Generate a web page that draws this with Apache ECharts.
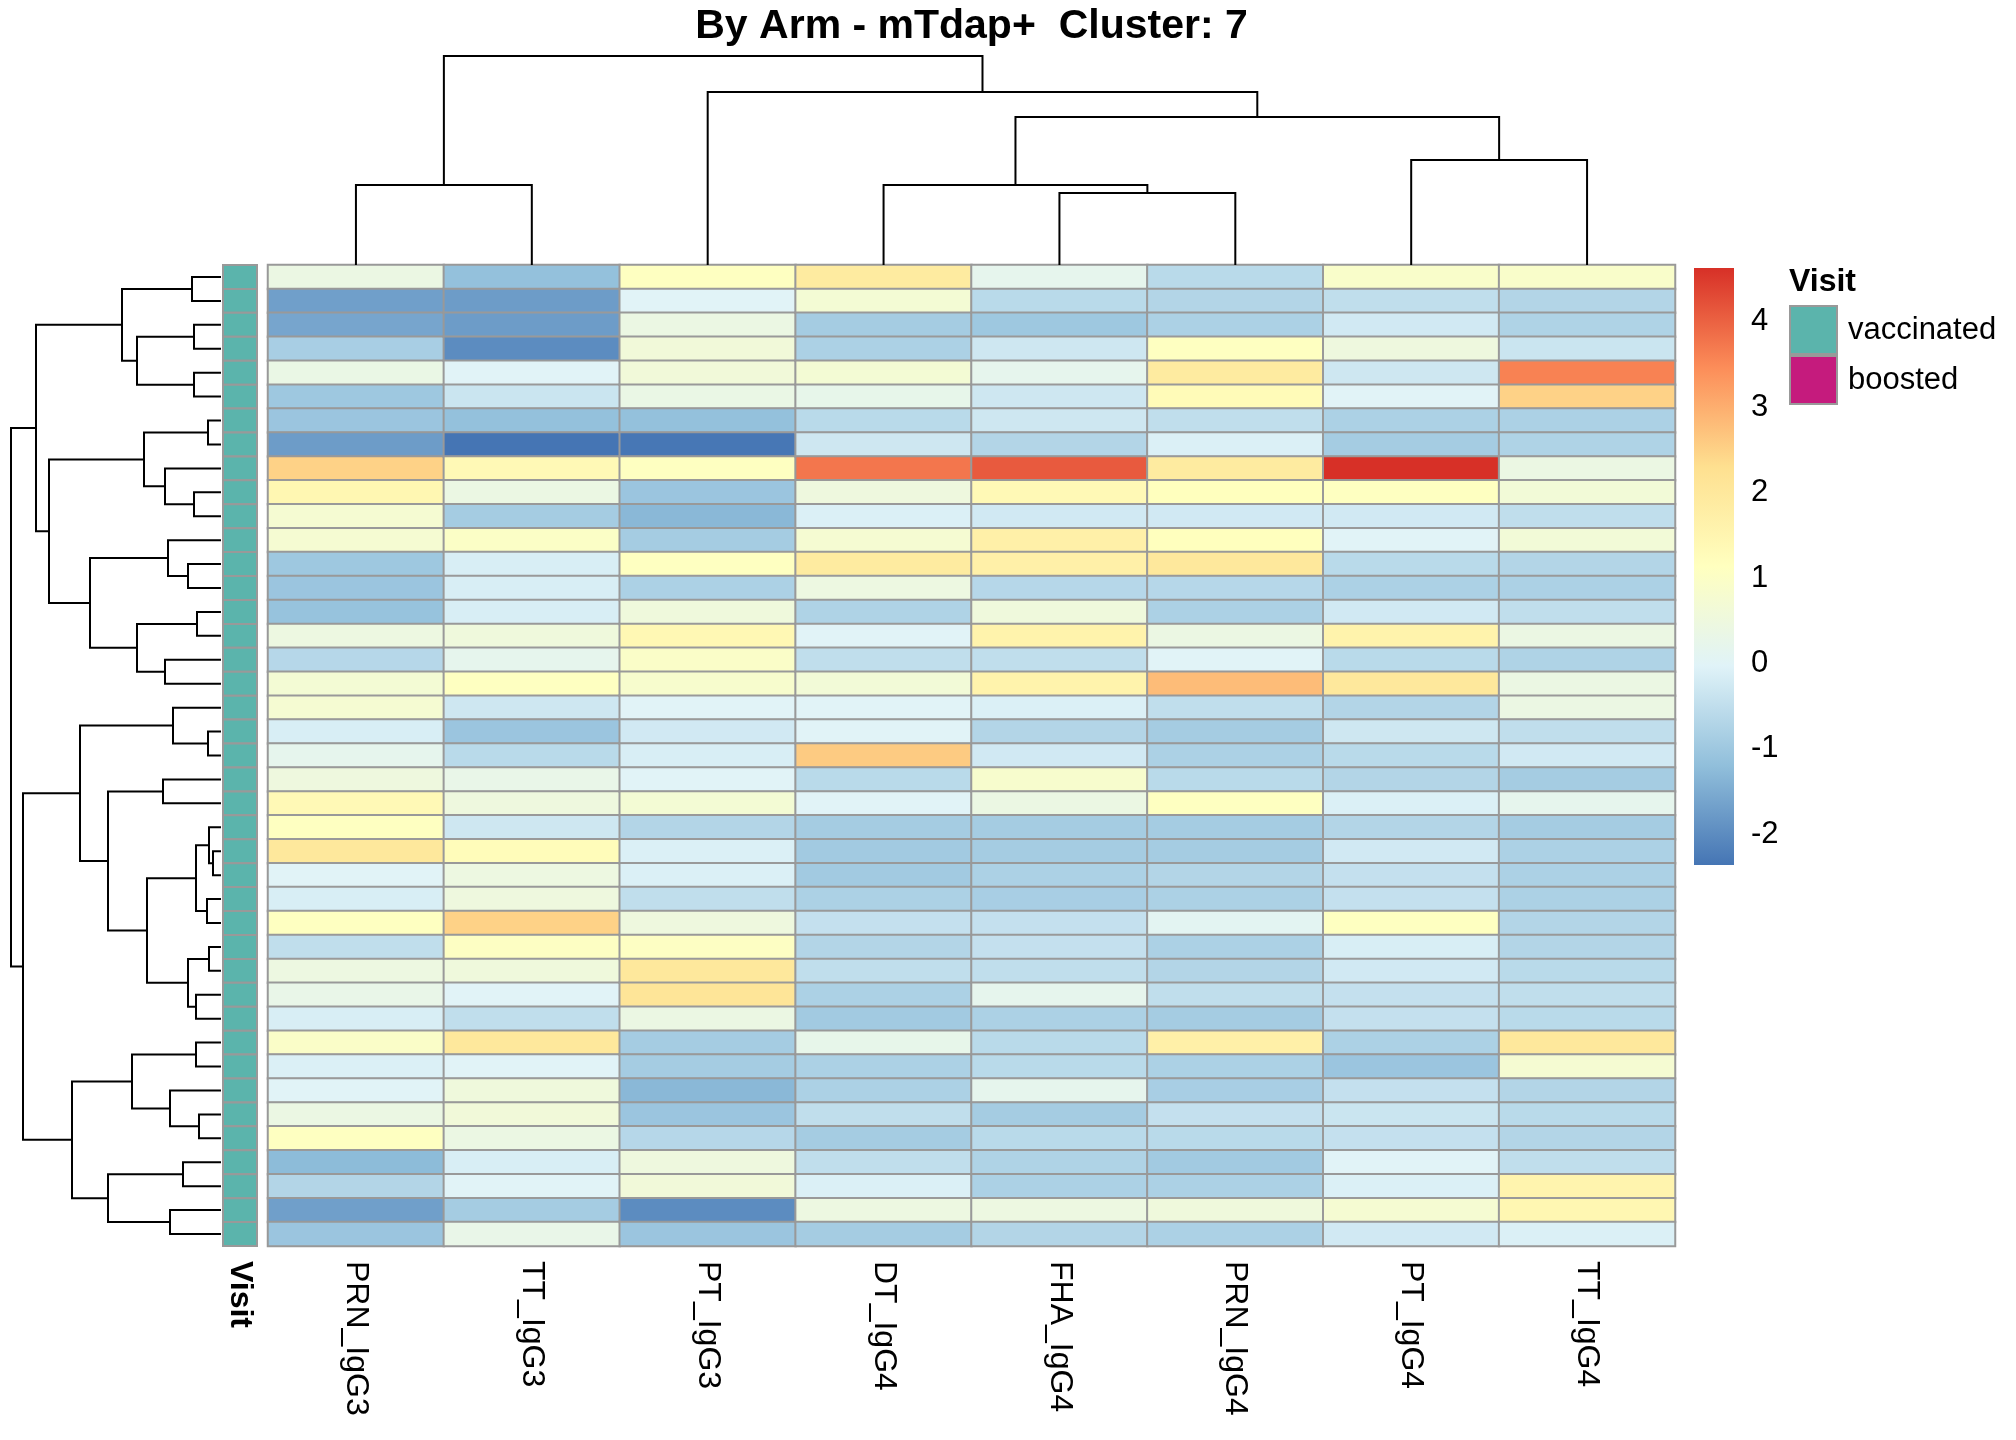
<!DOCTYPE html>
<html><head><meta charset="utf-8">
<script src="https://cdn.jsdelivr.net/npm/echarts@6.0.0/dist/echarts.min.js"></script>
<style>html,body{margin:0;padding:0;background:#fff}#c{width:2016px;height:1440px}</style>
</head><body><div id="c"></div>
<script>
const FONT = '"Liberation Sans", Arial, Helvetica, sans-serif';

// ---- data ----
const columns = ['PRN_IgG3','TT_IgG3','PT_IgG3','DT_IgG4','FHA_IgG4','PRN_IgG4','PT_IgG4','TT_IgG4'];
const PRN_IgG3 = [0.4,-1.7,-1.6,-0.85,0.35,-1.0,-1.05,-1.75,2.5,1.45,0.75,0.75,-1.0,-1.05,-1.1,0.45,-0.65,0.7,0.75,-0.15,0.2,0.5,1.35,1.1,2.0,0.0,-0.15,1.1,-0.5,0.45,0.3,-0.15,0.95,-0.1,0.0,0.4,1.1,-1.25,-0.7,-1.7,-1.05];
const TT_IgG3  = [-1.15,-1.75,-1.75,-2.0,0.0,-0.35,-1.15,-2.36,1.35,0.4,-0.9,1.0,-0.15,-0.15,-0.15,0.55,0.2,1.1,-0.3,-1.05,-0.6,0.3,0.5,-0.3,1.25,0.45,0.5,2.5,1.05,0.55,0.0,-0.5,2.0,0.0,0.55,0.6,0.4,-0.15,0.0,-0.9,0.3];
const PT_IgG3  = [1.1,0.0,0.4,0.6,0.6,0.35,-1.15,-2.33,1.1,-1.05,-1.3,-0.9,1.1,-0.8,0.55,1.4,0.95,0.85,0.0,-0.25,-0.15,0.0,0.7,-0.7,-0.1,-0.1,-0.5,0.5,1.05,2.0,2.1,0.4,-0.9,-0.9,-1.3,-1.05,-0.65,0.5,0.6,-2.0,-1.05];
const DT_IgG4  = [1.9,0.7,-0.9,-0.8,0.7,0.25,-0.6,-0.3,3.75,0.5,-0.1,0.75,1.9,0.45,-0.75,0.0,-0.5,0.65,0.0,0.0,2.6,-0.6,0.0,-0.9,-0.95,-0.95,-0.8,-0.45,-0.7,-0.5,-0.8,-0.95,0.25,-0.8,-0.8,-0.5,-0.9,-0.5,-0.1,0.45,-0.9];
const FHA_IgG4 = [0.2,-0.6,-1.0,-0.3,0.2,-0.3,-0.3,-0.7,4.1,1.35,-0.25,1.7,1.7,-0.65,0.55,1.6,-0.5,1.6,-0.1,-0.7,-0.25,0.85,0.4,-0.9,-0.9,-0.8,-0.85,-0.45,-0.45,-0.5,0.2,-0.8,-0.6,-0.6,0.2,-0.9,-0.6,-0.75,-0.8,0.45,-0.7];
const PRN_IgG4 = [-0.6,-0.7,-0.8,1.1,1.9,1.3,-0.5,-0.1,1.9,1.15,-0.25,1.15,2.0,-0.65,-0.8,0.4,0.0,2.8,-0.5,-0.9,-0.8,-0.6,1.1,-0.9,-0.9,-0.7,-0.8,0.1,-0.8,-0.7,-0.5,-0.9,1.7,-0.8,-0.85,-0.45,-0.6,-0.95,-0.8,0.55,-0.8];
const PT_IgG4  = [0.9,-0.5,-0.25,0.5,-0.3,0.0,-0.8,-0.9,4.63,1.1,-0.25,0.0,-0.6,-0.8,-0.25,1.6,-0.6,2.0,-0.7,-0.3,-0.6,-0.7,-0.1,-0.7,-0.25,-0.45,-0.45,1.1,-0.15,-0.25,-0.45,-0.45,-0.8,-1.05,-0.45,-0.35,-0.45,0.0,-0.1,0.75,-0.25];
const TT_IgG4  = [0.9,-0.7,-0.75,-0.35,3.6,2.5,-0.8,-0.75,0.4,0.65,-0.5,0.65,-0.7,-0.8,-0.5,0.4,-0.75,0.4,0.4,-0.5,-0.25,-0.9,0.2,-0.9,-0.8,-0.8,-0.8,-0.7,-0.7,-0.6,-0.5,-0.6,2.0,0.75,-0.7,-0.6,-0.7,-0.5,1.55,1.45,-0.1];
const columnValues = [PRN_IgG3, TT_IgG3, PT_IgG3, DT_IgG4, FHA_IgG4, PRN_IgG4, PT_IgG4, TT_IgG4];

const visit = Array.from({length: 41}, () => 'vaccinated');
const visitLevels = ['vaccinated', 'boosted'];
const visitColors = ['#5BB4AC', '#C51B7D'];

// hclust-style merges: [left, right, height]; negative = leaf (1-based), positive = earlier merge (1-based)
const rowMerges = [
  [-1,-2,29],[-3,-4,27],[-5,-6,27],[2,3,84],[1,4,99],
  [-7,-8,13],[-10,-11,27],[-9,7,56],[6,8,77],
  [-13,-14,33],[-12,10,53],[-15,-16,24],[-17,-18,56],[12,13,84],[11,14,131],
  [9,15,172],[5,16,185],
  [-20,-21,13],[-19,18,48],[-22,-23,58],[-25,-26,8],[-24,21,12],[-27,-28,14],[22,23,25],
  [-29,-30,12],[-31,-32,25],[25,26,33],[24,27,74],[20,28,113],[19,29,141],
  [-33,-34,25],[-36,-37,22],[-35,32,51],[31,33,89],[-38,-39,38],[-40,-41,51],[35,36,113],[34,37,149],
  [30,38,198],[17,39,210]
];
const colMerges = [
  [-5,-6,72],[-1,-2,80],[-4,1,80],[-7,-8,105],[3,4,148],[-3,5,173],[2,6,209]
];

const colorTicks = [-2,-1,0,1,2,3,4];
const palette = ['#4575B4','#91BFDB','#E0F3F8','#FFFFBF','#FEE090','#FC8D59','#D73027'];
const scaleMin = -2.36, scaleMax = 4.63;

// ---- derived ----
const nRows = visit.length;
const rowNames = Array.from({length: nRows}, (_, i) => String(i));
const heatData = [];
columnValues.forEach((arr, j) => arr.forEach((v, i) => heatData.push([j, i, v])));

function dendro(merges) {
  const pos = [], hgt = [], lines = [];
  merges.forEach(([a, b, h], k) => {
    const pa = a < 0 ? -a - 1 : pos[a - 1], ha = a < 0 ? 0 : hgt[a - 1];
    const pb = b < 0 ? -b - 1 : pos[b - 1], hb = b < 0 ? 0 : hgt[b - 1];
    lines.push([[pa, ha], [pa, h], [pb, h], [pb, hb]]);
    pos[k] = (pa + pb) / 2; hgt[k] = h;
  });
  return lines;
}
const rowLines = dendro(rowMerges).map(l => ({coords: l.map(([p, h]) => [h, p])}));
const colLines = dendro(colMerges).map(l => ({coords: l}));

function annoSeries(level, color) {
  return {
    type: 'custom', name: level, xAxisIndex: 1, yAxisIndex: 1,
    itemStyle: {color: color},
    data: visit.map((v, i) => v === level ? [0, i] : null).filter(d => d),
    renderItem: (params, api) => {
      const c = api.coord([api.value(0), api.value(1)]);
      const s = api.size([1, 1]);
      return {type: 'rect', shape: {x: c[0] - s[0] / 2, y: c[1] - s[1] / 2, width: s[0], height: s[1]},
        style: {fill: color, stroke: '#999999', lineWidth: 2}};
    }
  };
}

const HM_LEFT = 268, HM_WIDTH = 1407;
const hidden = {show: false};
const option = {
  animation: false,
  backgroundColor: '#ffffff',
  textStyle: {fontFamily: FONT},
  title: [
    {text: 'By Arm - mTdap+  Cluster: 7', left: HM_LEFT + HM_WIDTH / 2, top: 6, textAlign: 'center', padding: 0,
     textStyle: {fontSize: 41, fontWeight: 'bold', color: '#000', fontFamily: FONT}},
    {text: 'Visit', left: 1789, top: 266, padding: 0,
     textStyle: {fontSize: 32, fontWeight: 'bold', color: '#000', fontFamily: FONT}}
  ],
  legend: {
    data: visitLevels, orient: 'vertical', left: 1789, top: 305, padding: 0,
    itemWidth: 47, itemHeight: 48, itemGap: 0, icon: 'rect', selectedMode: false,
    itemStyle: {borderColor: '#999999', borderWidth: 2},
    textStyle: {fontSize: 31, color: '#000', fontFamily: FONT, padding: [0, 0, 0, 6]}
  },
  grid: [
    {left: HM_LEFT, top: 265, width: HM_WIDTH, height: 981},
    {left: 223, top: 265, width: 34, height: 981},
    {left: 0, top: 265, width: 221, height: 981},
    {left: HM_LEFT, top: 45, width: HM_WIDTH, height: 220},
    {left: 1694, top: 268, width: 40, height: 597}
  ],
  xAxis: [
    {type: 'category', gridIndex: 0, data: columns, position: 'bottom',
     axisLine: hidden, axisTick: hidden, splitLine: hidden,
     axisLabel: {rotate: -90, margin: 15, fontSize: 32, color: '#000', fontFamily: FONT, interval: 0}},
    {type: 'category', gridIndex: 1, data: ['Visit'], position: 'bottom',
     axisLine: hidden, axisTick: hidden, splitLine: hidden,
     axisLabel: {rotate: -90, margin: 15, fontSize: 32, fontWeight: 'bold', color: '#000', fontFamily: FONT}},
    {type: 'value', gridIndex: 2, min: 0, max: 221, inverse: true, show: false},
    {type: 'value', gridIndex: 3, min: -0.5, max: 7.5, show: false},
    {type: 'value', gridIndex: 4, min: 0, max: 1, show: false}
  ],
  yAxis: [
    {type: 'category', gridIndex: 0, data: rowNames, inverse: true, show: false},
    {type: 'category', gridIndex: 1, data: rowNames, inverse: true, show: false},
    {type: 'value', gridIndex: 2, min: -0.5, max: nRows - 0.5, inverse: true, show: false},
    {type: 'value', gridIndex: 3, min: 0, max: 220, show: false},
    {type: 'value', gridIndex: 4, min: scaleMin, max: scaleMax, position: 'right',
     axisLine: hidden, splitLine: hidden,
     axisTick: {show: false, customValues: colorTicks},
     axisLabel: {customValues: colorTicks, margin: 17, fontSize: 31, color: '#000', fontFamily: FONT}}
  ],
  visualMap: {
    type: 'continuous', show: false, seriesIndex: 0, dimension: 2,
    min: scaleMin, max: scaleMax, inRange: {color: palette}
  },
  series: [
    {type: 'heatmap', xAxisIndex: 0, yAxisIndex: 0, data: heatData,
     itemStyle: {borderColor: '#999999', borderWidth: 2},
     emphasis: {disabled: true}},
    annoSeries(visitLevels[0], visitColors[0]),
    annoSeries(visitLevels[1], visitColors[1]),
    {type: 'lines', coordinateSystem: 'cartesian2d', xAxisIndex: 2, yAxisIndex: 2, polyline: true,
     data: rowLines, silent: true, lineStyle: {color: '#000', width: 2, opacity: 1}},
    {type: 'lines', coordinateSystem: 'cartesian2d', xAxisIndex: 3, yAxisIndex: 3, polyline: true,
     data: colLines, silent: true, lineStyle: {color: '#000', width: 2, opacity: 1}},
    {type: 'custom', xAxisIndex: 4, yAxisIndex: 4, silent: true, data: [[0]],
     renderItem: (params, api) => {
       const p1 = api.coord([0, scaleMax]);
       const p2 = api.coord([1, scaleMin]);
       const stops = palette.slice().reverse().map((c, k) => ({offset: k / (palette.length - 1), color: c}));
       return {type: 'rect', shape: {x: p1[0], y: p1[1], width: p2[0] - p1[0], height: p2[1] - p1[1]},
         style: {fill: new echarts.graphic.LinearGradient(0, 0, 0, 1, stops)}};
     }}
  ]
};
const chart = echarts.init(document.getElementById('c'));
chart.setOption(option);
</script>
</body></html>
